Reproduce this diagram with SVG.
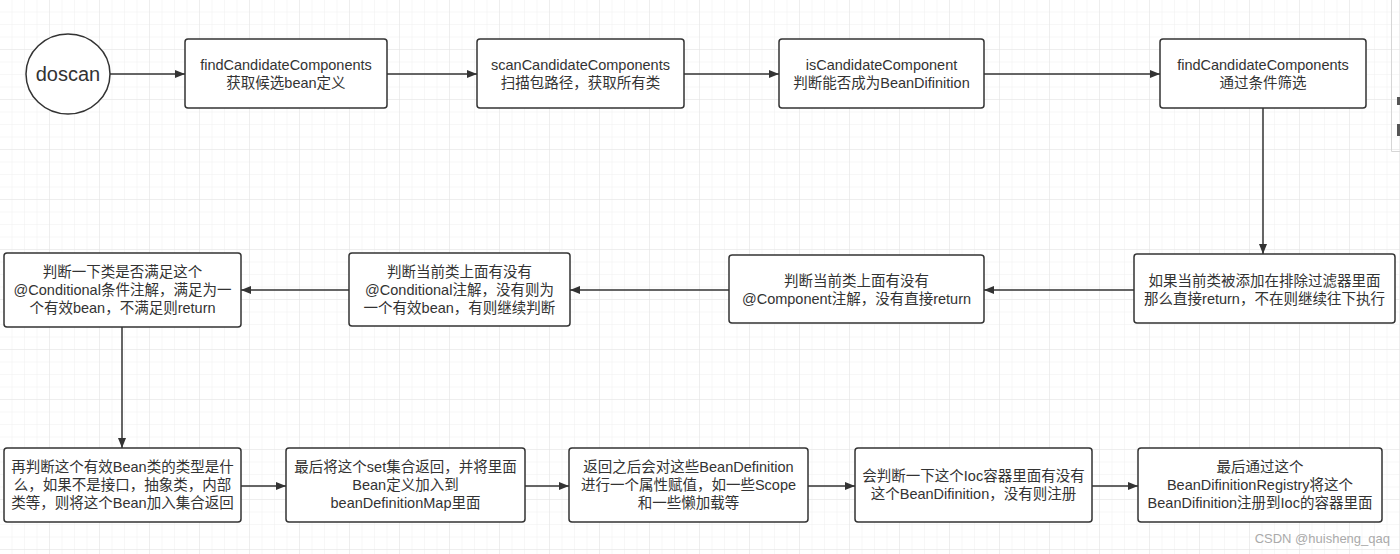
<svg xmlns="http://www.w3.org/2000/svg" width="1400" height="554" viewBox="0 0 1400 554">
<defs>
<pattern id="minor" width="12.5" height="12.5" patternUnits="userSpaceOnUse">
<path d="M12.5 0V12.5M0 12.5H12.5" fill="none" stroke="#f0f0f0" stroke-width="1"/>
</pattern>
<pattern id="major" width="50" height="50" patternUnits="userSpaceOnUse">
<path d="M50 0V50M0 50H50" fill="none" stroke="#e4e4e4" stroke-width="1"/>
</pattern>
<marker id="arr" viewBox="0 0 10 10" refX="10" refY="5" markerWidth="10" markerHeight="10" markerUnits="userSpaceOnUse" orient="auto">
<path d="M0 1L10 5L0 9Z" fill="#333"/>
</marker>
</defs>
<style>
.box{fill:#fff;stroke:#333;stroke-width:1.5}
.t{font-family:"Liberation Sans","Noto Sans CJK SC",sans-serif;font-size:14.5px;fill:#333;text-anchor:middle}
.c{fill:none;stroke:#333;stroke-width:1.5;marker-end:url(#arr)}
</style>
<rect width="1400" height="554" fill="#fff"/>
<rect width="1400" height="554" fill="url(#minor)"/>
<rect width="1400" height="554" fill="url(#major)"/>
<path d="M1391.5 0V151.5H1400" fill="none" stroke="#d6d6d6"/>
<rect x="1397" y="97" width="3" height="8" fill="#555"/>
<rect x="1397" y="124" width="3" height="12" fill="#555"/>

<g id="connectors">
<path class="c" d="M110 74H185"/>
<path class="c" d="M387 74H477"/>
<path class="c" d="M684 74H779"/>
<path class="c" d="M984 74H1160"/>
<path class="c" d="M1263 108V254"/>
<path class="c" d="M1134 290H984"/>
<path class="c" d="M729 290H570"/>
<path class="c" d="M349 290H241"/>
<path class="c" d="M122 327V448"/>
<path class="c" d="M241 486H286"/>
<path class="c" d="M525 486H569"/>
<path class="c" d="M808 486H855"/>
<path class="c" d="M1092 486H1138"/>
</g>

<g id="doscan">
<ellipse cx="68" cy="74" rx="42" ry="40" class="box"/>
<text class="t" x="68" y="81" style="font-size:20px">doscan</text>
</g>
<g id="findCandidate1">
<rect class="box" x="185" y="39" width="202" height="69" rx="3"/>
<text class="t" x="286" y="70">findCandidateComponents</text>
<text class="t" x="286" y="88">获取候选bean定义</text>
</g>
<g id="scanCandidate">
<rect class="box" x="477" y="39" width="207" height="69" rx="3"/>
<text class="t" x="580.5" y="70">scanCandidateComponents</text>
<text class="t" x="580.5" y="88">扫描包路径，获取所有类</text>
</g>
<g id="isCandidate">
<rect class="box" x="779" y="39" width="205" height="69" rx="3"/>
<text class="t" x="881.5" y="70">isCandidateComponent</text>
<text class="t" x="881.5" y="88">判断能否成为BeanDifinition</text>
</g>
<g id="findCandidate2">
<rect class="box" x="1160" y="39" width="206" height="69" rx="3"/>
<text class="t" x="1263" y="70">findCandidateComponents</text>
<text class="t" x="1263" y="88">通过条件筛选</text>
</g>

<g id="excludeFilter">
<rect class="box" x="1134" y="254" width="261" height="69" rx="3"/>
<text class="t" x="1264.5" y="286">如果当前类被添加在排除过滤器里面</text>
<text class="t" x="1264.5" y="304">那么直接return，不在则继续往下执行</text>
</g>
<g id="componentCheck">
<rect class="box" x="729" y="255" width="255" height="68" rx="3"/>
<text class="t" x="856.5" y="286">判断当前类上面有没有</text>
<text class="t" x="856.5" y="304">@Component注解，没有直接return</text>
</g>
<g id="conditionalCheck">
<rect class="box" x="349" y="253" width="221" height="73" rx="3"/>
<text class="t" x="459.5" y="277">判断当前类上面有没有</text>
<text class="t" x="459.5" y="295">@Conditional注解，没有则为</text>
<text class="t" x="459.5" y="313">一个有效bean，有则继续判断</text>
</g>
<g id="conditionalMatch">
<rect class="box" x="4" y="253" width="237" height="74" rx="3"/>
<text class="t" x="122.5" y="277">判断一下类是否满足这个</text>
<text class="t" x="122.5" y="295">@Conditional条件注解，满足为一</text>
<text class="t" x="122.5" y="313">个有效bean，不满足则return</text>
</g>

<g id="typeCheck">
<rect class="box" x="4" y="448" width="237" height="74" rx="3"/>
<text class="t" x="122.5" y="472">再判断这个有效Bean类的类型是什</text>
<text class="t" x="122.5" y="490">么，如果不是接口，抽象类，内部</text>
<text class="t" x="122.5" y="508">类等，则将这个Bean加入集合返回</text>
</g>
<g id="returnSet">
<rect class="box" x="286" y="448" width="239" height="74" rx="3"/>
<text class="t" x="405.5" y="472">最后将这个set集合返回，并将里面</text>
<text class="t" x="405.5" y="490">Bean定义加入到</text>
<text class="t" x="405.5" y="508">beanDefinitionMap里面</text>
</g>
<g id="assignProps">
<rect class="box" x="569" y="448" width="239" height="74" rx="3"/>
<text class="t" x="688.5" y="472">返回之后会对这些BeanDefinition</text>
<text class="t" x="688.5" y="490">进行一个属性赋值，如一些Scope</text>
<text class="t" x="688.5" y="508">和一些懒加载等</text>
</g>
<g id="iocCheck">
<rect class="box" x="855" y="448" width="237" height="74" rx="3"/>
<text class="t" x="973.5" y="481">会判断一下这个Ioc容器里面有没有</text>
<text class="t" x="973.5" y="499">这个BeanDifinition，没有则注册</text>
</g>
<g id="register">
<rect class="box" x="1138" y="448" width="244" height="74" rx="3"/>
<text class="t" x="1260" y="472">最后通过这个</text>
<text class="t" x="1260" y="490">BeanDifinitionRegistry将这个</text>
<text class="t" x="1260" y="508">BeanDifinition注册到Ioc的容器里面</text>
</g>

<text x="1390" y="543" style="font-family:'Liberation Sans','Noto Sans CJK SC',sans-serif;font-size:13px;fill:#aaa;text-anchor:end">CSDN @huisheng_qaq</text>
</svg>
